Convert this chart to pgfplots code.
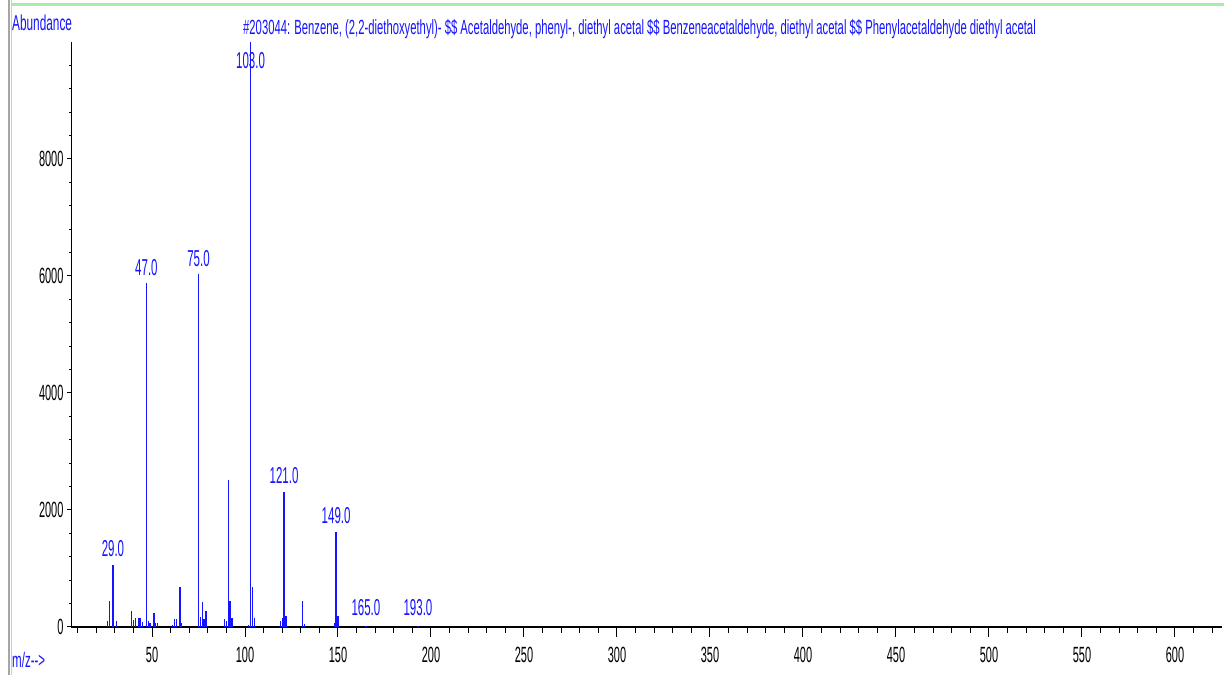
\documentclass[border=0pt]{standalone}
\usepackage{pgfplots}
\pgfplotsset{compat=1.18}
\usepackage{fontspec}
\setmainfont{Liberation Sans}
\newfontfamily\cond[FakeStretch=0.55]{Liberation Sans}
\newfontfamily\condd[FakeStretch=0.5]{Liberation Sans}
\definecolor{specblue}{RGB}{20,20,255}
\definecolor{wingreen}{RGB}{170,235,170}
\newcommand{\tickf}{\fontsize{22bp}{22bp}\selectfont\condd}
\newcommand{\labf}{\fontsize{23bp}{23bp}\selectfont\condd}
\newcommand{\titf}{\fontsize{20.5bp}{20.5bp}\selectfont\cond}
\begin{document}
\begin{tikzpicture}
\useasboundingbox (0,0) rectangle (1224bp,675bp);
\fill[white] (0,0) rectangle (1224bp,675bp);
% window decorations
\draw[line width=1.5bp, gray!70] (9bp,0) -- (9bp,675bp);
\draw[line width=1bp, gray!40] (11bp,0) -- (11bp,675bp);
\draw[line width=2.5bp, wingreen] (12bp,670.5bp) -- (1224bp,670.5bp);
% texts
\node[anchor=west, text=specblue, inner sep=0] at (12bp,652bp) {\fontsize{21.5bp}{21.5bp}\selectfont\cond Abundance};
\node[anchor=west, text=specblue, inner sep=0] at (243bp,646bp) {\titf \#203044: Benzene, (2,2-diethoxyethyl)- \$\$ Acetaldehyde, phenyl-, diethyl acetal \$\$ Benzeneacetaldehyde, diethyl acetal \$\$ Phenylacetaldehyde diethyl acetal};
\node[anchor=west, text=specblue, inner sep=0] at (12bp,15bp) {\fontsize{21bp}{21bp}\selectfont\cond m/z-{}->};
% main axis with data and x axis
\begin{axis}[
  at={(71bp,48bp)}, anchor=south west,
  scale only axis, width=1151bp, height=585bp,
  xmin=6.45, xmax=625.3, ymin=0, ymax=10000,
  axis x line=bottom, axis y line=none,
  axis line style={-, line width=1.8bp, black},
  xtick={50,100,...,600}, minor xtick={10,20,...,620},
  tick align=outside, major tick length=10bp, minor tick length=6bp,
  tick style={black, line width=1bp},
  xticklabel style={font=\tickf, text=black, yshift=-7bp},
  /pgf/number format/assume math mode=true,
  /pgf/number format/1000 sep={},
  clip=false,
]
\addplot[ycomb, specblue, line width=1.3bp, mark=none] coordinates {
(26,100) (27,440) (29,1060) (31,110) (39,270) (40,120) (41,150) (43,150)
(44,150) (45,80) (47,5880) (48,110) (49,60) (51,235) (52,60) (53,60)
(61,40) (62,135) (63,135) (65,690) (66,60) (75,6030) (76,175) (77,430)
(78,135) (79,270) (89,140) (90,100) (91,2510) (92,440) (93,150) (102,40)
(103,10000) (104,690) (105,150) (119,100) (120,150) (121,2310) (122,190)
(131,440) (132,50) (148,60) (149,1625) (150,190) (165,20) (193,10)
};
\node[text=specblue, font=\labf, inner sep=0] at (axis cs:29,1340) {29.0};
\node[text=specblue, font=\labf, inner sep=0] at (axis cs:47,6150) {47.0};
\node[text=specblue, font=\labf, inner sep=0] at (axis cs:75,6290) {75.0};
\node[text=specblue, font=\labf, inner sep=0] at (axis cs:103,9690) {103.0};
\node[text=specblue, font=\labf, inner sep=0] at (axis cs:121,2590) {121.0};
\node[text=specblue, font=\labf, inner sep=0] at (axis cs:149,1900) {149.0};
\node[text=specblue, font=\labf, inner sep=0] at (axis cs:165,325) {165.0};
\node[text=specblue, font=\labf, inner sep=0] at (axis cs:193,325) {193.0};
\end{axis}
% y axis
\begin{axis}[
  at={(71bp,48bp)}, anchor=south west,
  scale only axis, width=1151bp, height=585bp,
  xmin=6.45, xmax=625.3, ymin=0, ymax=10000,
  axis y line=left, axis x line=none,
  axis line style={-, line width=1bp, black},
  ytick={0,2000,...,8000}, minor ytick={400,800,...,9600},
  tick align=outside, major tick length=4bp, minor tick length=2bp,
  tick style={black, line width=1bp},
  scaled y ticks=false,
  yticklabel style={font=\tickf, text=black},
  /pgf/number format/assume math mode=true,
  /pgf/number format/1000 sep={},
]
\addplot[draw=none] coordinates {(10,0)};
\end{axis}
\end{tikzpicture}
\end{document}
